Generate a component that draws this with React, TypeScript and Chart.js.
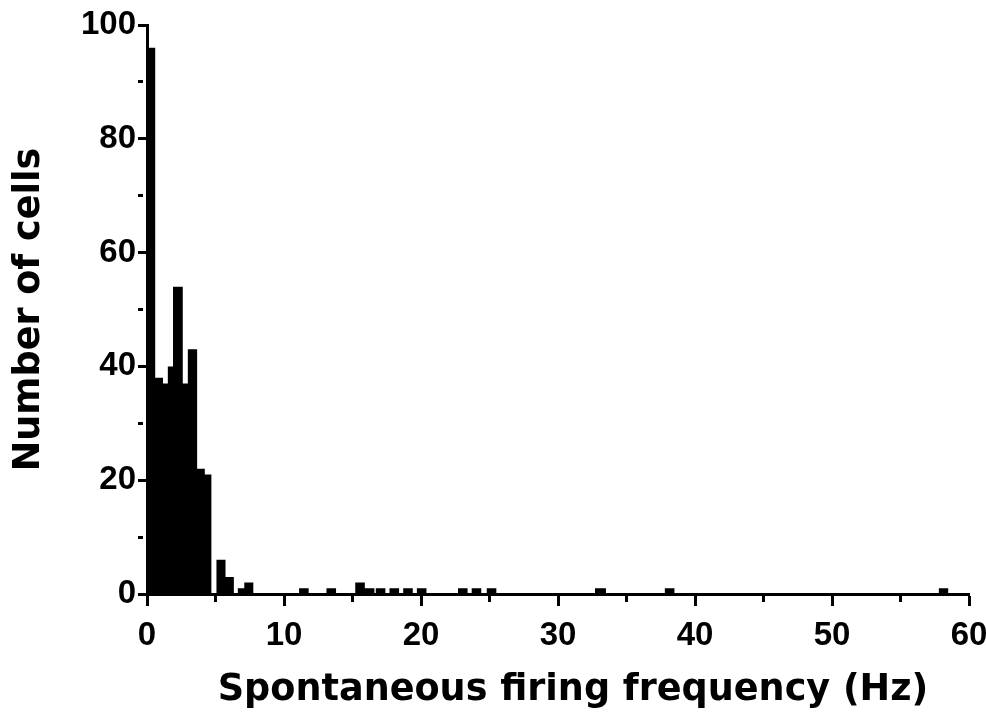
import React, { useEffect, useRef } from 'react';
import { Chart, registerables } from 'chart.js';

Chart.register(...registerables);

// Histogram bins (Hz edges as printed) and cell counts
const binStart = [-0.2, 0.6, 1.17, 1.52, 1.9, 2.61, 2.98, 3.66, 4.22, 5.07, 5.73, 6.63, 7.1, 11.1, 13.1, 15.2, 15.9, 16.7, 17.7, 18.7, 19.7, 22.7, 23.7, 24.8, 32.7, 37.8, 57.8];
const binEnd = [0.6, 1.17, 1.52, 1.9, 2.61, 2.98, 3.66, 4.22, 4.7, 5.73, 6.34, 7.1, 7.76, 11.8, 13.8, 15.9, 16.6, 17.4, 18.4, 19.4, 20.4, 23.4, 24.4, 25.5, 33.5, 38.5, 58.5];
const cellCounts = [96, 38, 37, 40, 54, 37, 43, 22, 21, 6, 3, 1, 2, 1, 1, 2, 1, 1, 1, 1, 1, 1, 1, 1, 1, 1, 1];

const xTickLabels = ['0', '10', '20', '30', '40', '50', '60'];
const yTickLabels = ['0', '20', '40', '60', '80', '100'];

const xTitle = 'Spontaneous firing frequency (Hz)';
const yTitle = 'Number of cells';

function buildSteps() {
  const pts: { x: number; y: number }[] = [];
  for (let i = 0; i < binStart.length; i++) {
    pts.push({ x: binStart[i], y: cellCounts[i] });
    const last = i === binStart.length - 1;
    if (last || binStart[i + 1] > binEnd[i]) {
      pts.push({ x: binEnd[i], y: 0 });
    }
  }
  return pts;
}

const tickFont = { family: "'Liberation Sans', Arial, sans-serif", size: 33, weight: 'bold' as const };
const titleFont = { family: "'DejaVu Sans', sans-serif", size: 36.6, weight: 'bold' as const };

// draws the x-axis title under the axis, slightly right of centre as in the original figure
const xTitlePlugin = {
  id: 'xTitlePlugin',
  afterDraw(chart: any) {
    const { ctx, chartArea } = chart;
    ctx.save();
    ctx.fillStyle = '#000';
    ctx.font = `bold ${titleFont.size}px ${titleFont.family}`;
    ctx.textAlign = 'center';
    ctx.textBaseline = 'middle';
    ctx.fillText(xTitle, (chartArea.left + chartArea.right) / 2 + 15, chartArea.bottom + 96);
    ctx.restore();
  },
};

export default function App() {
  const ref = useRef<HTMLCanvasElement | null>(null);

  useEffect(() => {
    if (!ref.current) return;
    const chart = new Chart(ref.current, {
      type: 'line',
      data: {
        datasets: [
          {
            data: buildSteps(),
            stepped: true,
            fill: 'origin',
            backgroundColor: '#000',
            borderColor: '#000',
            borderWidth: 0,
            pointRadius: 0,
            tension: 0,
          },
        ],
      },
      plugins: [xTitlePlugin],
      options: {
        animation: false,
        responsive: false,
        events: [],
        layout: { padding: { left: 0, right: 17, top: 25, bottom: 0 } },
        plugins: { legend: { display: false }, tooltip: { enabled: false } },
        scales: {
          x: {
            type: 'linear',
            min: 0,
            max: 60,
            ticks: {
              stepSize: 5,
              autoSkip: false,
              maxRotation: 0,
              color: '#000',
              font: tickFont,
              padding: 10,
              callback: (v: any) => (xTickLabels.includes(String(v)) ? String(v) : ''),
            },
            grid: {
              drawOnChartArea: false,
              drawTicks: true,
              tickLength: 12,
              tickWidth: 3,
              tickColor: '#000',
              tickBorderDash: (ctx: any) => (xTickLabels.includes(String(ctx.tick.value)) ? [] : [6, 100]),
            },
            border: { display: true, color: '#000', width: 3 },
            title: { display: false, text: xTitle },
            afterFit: (s: any) => {
              s.height = 119;
              s.paddingLeft = 0;
              s.paddingRight = 0;
            },
          },
          y: {
            type: 'linear',
            min: 0,
            max: 100,
            ticks: {
              stepSize: 10,
              autoSkip: false,
              color: '#000',
              font: tickFont,
              padding: 2,
              callback: (v: any) => (yTickLabels.includes(String(v)) ? String(v) : ''),
            },
            grid: {
              drawOnChartArea: false,
              drawTicks: true,
              tickLength: 9,
              tickWidth: 3,
              tickColor: '#000',
              tickBorderDash: (ctx: any) => (yTickLabels.includes(String(ctx.tick.value)) ? [] : [5, 100]),
            },
            border: { display: true, color: '#000', width: 3 },
            title: { display: true, text: yTitle, color: '#000', font: titleFont, padding: { top: 8, bottom: 0 } },
            afterFit: (s: any) => {
              s.width = 147;
              s.paddingTop = 0;
              s.paddingBottom = 0;
            },
          },
        },
      },
    });
    return () => chart.destroy();
  }, []);

  return (
    <div style={{ position: 'fixed', left: 0, top: 0, width: 986, height: 713, background: '#fff' }}>
      <canvas ref={ref} width={986} height={713} />
    </div>
  );
}
